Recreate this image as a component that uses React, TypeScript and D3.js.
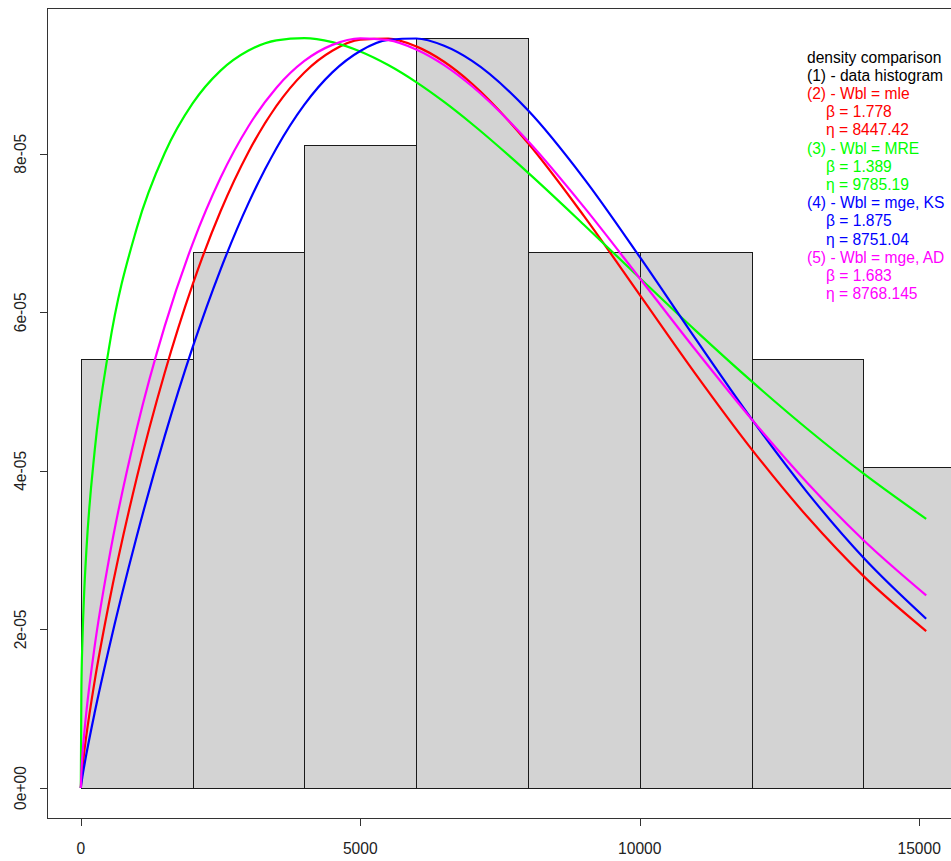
import React from 'react';
import * as d3 from 'd3';

// Histogram (density scale)
const breaks = [0, 2000, 4000, 6000, 8000, 10000, 12000, 14000, 16000];
const histDensity = [5.405e-5, 6.757e-5, 8.108e-5, 9.459e-5, 6.757e-5, 6.757e-5, 5.405e-5, 4.054e-5];

// Curve sample positions
const xGrid = [0, 10, 30, 60, 100, 250, 500, 1000, 1500, 2000, 2500, 3000, 3500, 4000, 4500, 5000, 5500, 6000, 6500, 7000, 8000, 9000, 10000, 11000, 12000, 13000, 14000, 15125];

// Curve values (x 1e-05)
const densMle = [0, 0.111, 0.261, 0.448, 0.666, 1.358, 2.317, 3.911, 5.235, 6.349, 7.274, 8.022, 8.603, 9.025, 9.299, 9.438, 9.452, 9.354, 9.160, 8.883, 8.135, 7.216, 6.220, 5.221, 4.275, 3.420, 2.675, 1.979];
const densMre = [0, 1.228, 1.881, 2.462, 3.001, 4.267, 5.532, 7.059, 8.006, 8.634, 9.048, 9.301, 9.430, 9.459, 9.407, 9.289, 9.118, 8.903, 8.653, 8.375, 7.762, 7.105, 6.433, 5.769, 5.131, 4.528, 3.968, 3.394];
const densKs = [0, 0.057, 0.150, 0.275, 0.430, 0.958, 1.751, 3.172, 4.435, 5.557, 6.539, 7.377, 8.070, 8.619, 9.026, 9.296, 9.435, 9.453, 9.361, 9.171, 8.548, 7.690, 6.699, 5.664, 4.656, 3.726, 2.907, 2.135];
const densAd = [0, 0.200, 0.424, 0.680, 0.964, 1.798, 2.871, 4.527, 5.822, 6.864, 7.697, 8.347, 8.833, 9.170, 9.373, 9.456, 9.433, 9.315, 9.118, 8.851, 8.160, 7.329, 6.430, 5.524, 4.653, 3.848, 3.128, 2.430];

const seriesValues = [densMle, densMre, densKs, densAd];
const seriesColors = ['#FF0000', '#00FF00', '#0000FF', '#FF00FF'];

const xTicks = [0, 5000, 10000, 15000];
const xTickLabels = ['0', '5000', '10000', '15000'];
const yTicks = [0, 2e-5, 4e-5, 6e-5, 8e-5];
const yTickLabels = ['0e+00', '2e-05', '4e-05', '6e-05', '8e-05'];

const legendLabels = [
  'density comparison',
  '(1) - data histogram',
  '(2) - Wbl = mle',
  'β = 1.778',
  'η = 8447.42',
  '(3) - Wbl = MRE',
  'β = 1.389',
  'η = 9785.19',
  '(4) - Wbl = mge, KS',
  'β = 1.875',
  'η = 8751.04',
  '(5) - Wbl = mge, AD',
  'β = 1.683',
  'η = 8768.145',
];
const legendColors = [
  '#000000', '#000000',
  '#FF0000', '#FF0000', '#FF0000',
  '#00FF00', '#00FF00', '#00FF00',
  '#0000FF', '#0000FF', '#0000FF',
  '#FF00FF', '#FF00FF', '#FF00FF',
];

const FONT = '"Liberation Sans", Arial, Helvetica, sans-serif';
const FS = 15.6;

export default function App() {
  const W = 951;
  const H = 861;
  const left = 47, right = 960, top = 8, bottom = 818;
  const x = d3.scaleLinear().domain([-605, 15730]).range([left, right]);
  const y = d3.scaleLinear().domain([-0.3784e-5, 9.838e-5]).range([bottom, top]);

  const line = d3
    .line<[number, number]>()
    .x((d) => x(d[0]))
    .y((d) => y(d[1] * 1e-5))
    .curve(d3.curveMonotoneX);

  const px = (v: number) => Math.round(v) + 0.5;

  return (
    <svg
      width={W}
      height={H}
      style={{ position: 'absolute', left: 0, top: 0, background: '#fff' }}
      fontFamily={FONT}
    >
      <defs>
        <clipPath id="plotClip">
          <rect x={left} y={top} width={right - left} height={bottom - top} />
        </clipPath>
      </defs>
      <rect x={0} y={0} width={W} height={H} fill="#fff" />
      <g clipPath="url(#plotClip)">
        {histDensity.map((d, i) => {
          const x0 = px(x(breaks[i]));
          const x1 = px(x(breaks[i + 1]));
          const y0 = px(y(d));
          const yb = px(y(0));
          return (
            <rect
              key={i}
              x={x0}
              y={y0}
              width={x1 - x0}
              height={yb - y0}
              fill="#D3D3D3"
              stroke="#1a1a1a"
              strokeWidth={1}
            />
          );
        })}
        {seriesValues.map((vals, si) => (
          <path
            key={si}
            d={line(xGrid.map((xv, i) => [xv, vals[i]] as [number, number])) || ''}
            fill="none"
            stroke={seriesColors[si]}
            strokeWidth={2.2}
            strokeLinejoin="round"
          />
        ))}
      </g>
      {/* box */}
      <rect
        x={left + 0.5}
        y={top + 0.5}
        width={right - left}
        height={bottom - top}
        fill="none"
        stroke="#333"
        strokeWidth={1}
      />
      {/* x axis */}
      {xTicks.map((t, i) => (
        <g key={'xt' + i}>
          <line x1={px(x(t))} x2={px(x(t))} y1={bottom + 0.5} y2={bottom + 8} stroke="#333" />
          <text x={x(t)} y={854} fontSize={FS} textAnchor="middle" fill="#222">
            {xTickLabels[i]}
          </text>
        </g>
      ))}
      {/* y axis */}
      {yTicks.map((t, i) => (
        <g key={'yt' + i}>
          <line x1={left - 7} x2={left + 0.5} y1={px(y(t))} y2={px(y(t))} stroke="#333" />
          <text
            transform={`translate(${25.5},${y(t)}) rotate(-90)`}
            fontSize={FS}
            textAnchor="middle"
            fill="#222"
          >
            {yTickLabels[i]}
          </text>
        </g>
      ))}
      {/* legend */}
      {legendLabels.map((lab, i) => {
        const indent = lab.startsWith('β') || lab.startsWith('η');
        return (
          <text
            key={'lg' + i}
            x={indent ? 826 : 807}
            y={62.5 + 18.2 * i}
            fontSize={FS}
            fill={legendColors[i]}
          >
            {lab}
          </text>
        );
      })}
    </svg>
  );
}
